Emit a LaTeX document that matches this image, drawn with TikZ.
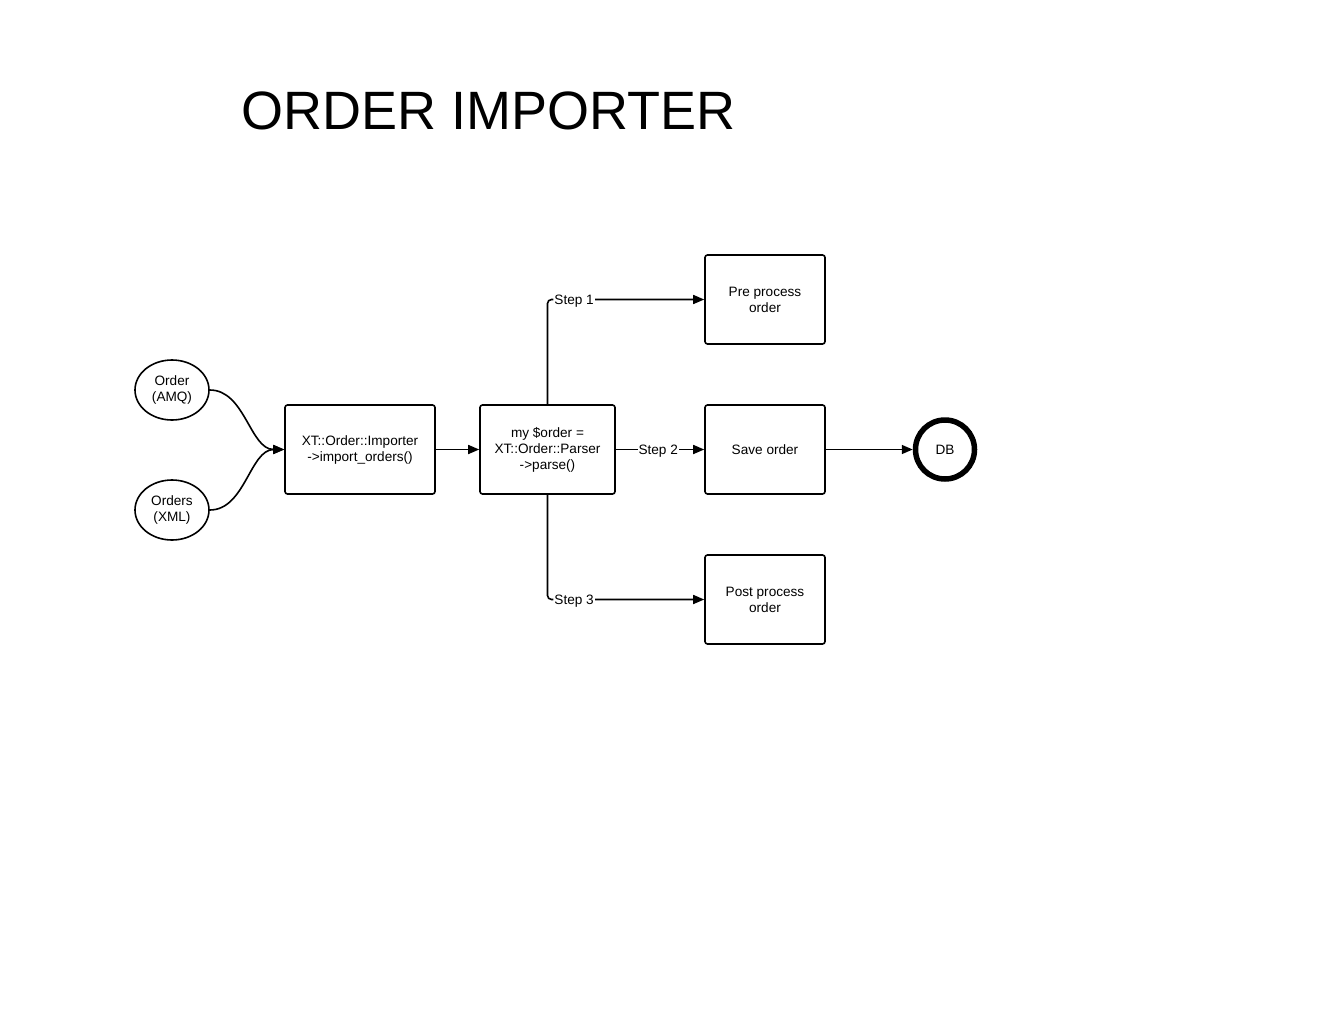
\documentclass[tikz,border=0pt]{standalone}
\usepackage{fontspec}
\setmainfont{Liberation Sans}
\usetikzlibrary{arrows.meta,shapes.geometric}
\begin{document}
\begin{tikzpicture}[x=1pt,y=-1pt,
  every node/.style={font=\fontsize{13.6}{16}\selectfont, align=center},
  box/.style={draw, line width=1.6pt, rounded corners=2.5pt, minimum width=150pt, minimum height=89pt, inner sep=0pt},
  src/.style={draw, ellipse, line width=1.6pt, minimum width=74pt, minimum height=60pt, inner sep=0pt},
  conn/.style={line width=1.6pt, -{Triangle[length=11pt,width=9pt]}},
  lbl/.style={fill=white, inner sep=1pt, yshift=-1.5pt}
]
\useasboundingbox (0,0) rectangle (1320,1020);
\node[anchor=base west, font=\fontsize{54}{60}\selectfont, inner sep=0pt] (title) at (241,129) {ORDER IMPORTER};

\node[src] (amq) at (172,390) {Order\\(AMQ)};
\node[src] (xml) at (172,510) {Orders\\(XML)};
\node[box] (imp) at (360,449.5) {XT::Order::Importer\\->import\_orders()};
\node[box, minimum width=135pt] (parser) at (547.5,449.5) {my \$order =\\XT::Order::Parser\\->parse()};
\node[box, minimum width=120pt] (pre) at (765,299.5) {Pre process\\order};
\node[box, minimum width=120pt] (save) at (765,449.5) {Save order};
\node[box, minimum width=120pt] (post) at (765,599.5) {Post process\\order};
\node[draw, circle, line width=5.5pt, minimum size=59pt, inner sep=0pt] (db) at (945,449.5) {DB};

\draw[conn] (amq.east) .. controls (245,390) and (250,449.5) .. (imp.west);
\draw[conn] (xml.east) .. controls (245,510) and (250,449.5) .. (imp.west);
\draw[conn] (imp.east) -- (parser.west);
\draw[conn, rounded corners=4pt] (parser.north) |- node[lbl, pos=0.585] {Step 1} (pre.west);
\draw[conn] (parser.east) -- node[lbl, pos=0.48] {Step 2} (save.west);
\draw[conn, rounded corners=4pt] (parser.south) |- node[lbl, pos=0.585] {Step 3} (post.west);
\draw[conn] (save.east) -- (db.west);
\end{tikzpicture}
\end{document}
